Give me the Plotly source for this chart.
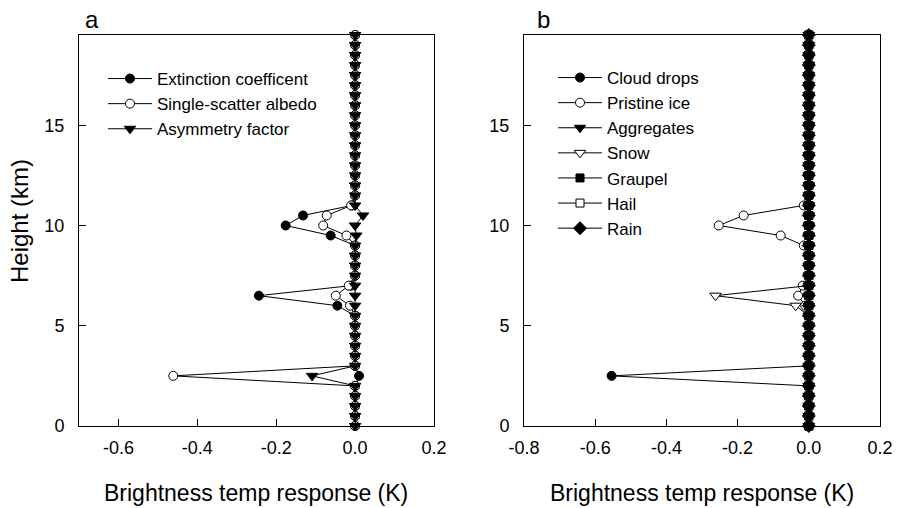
import plotly.graph_objects as go

W, H = 900, 508

# ---------------- data ----------------
heights = [0.0, 0.5, 1.0, 1.5, 2.0, 2.5, 3.0, 3.5, 4.0, 4.5,
           5.0, 5.5, 6.0, 6.5, 7.0, 7.5, 8.0, 8.5, 9.0, 9.5,
           10.0, 10.5, 11.0, 11.5, 12.0, 12.5, 13.0, 13.5, 14.0, 14.5,
           15.0, 15.5, 16.0, 16.5, 17.0, 17.5, 18.0, 18.5, 19.0, 19.5]

# panel a
extinction = [0, 0, 0, 0, 0, 0.01, 0, 0, 0, 0,
              0, 0, -0.045, -0.244, -0.01, 0, 0, 0, 0, -0.062,
              -0.176, -0.132, -0.008, 0, 0, 0, 0, 0, 0, 0,
              0, 0, 0, 0, 0, 0, 0, 0, 0, 0]
albedo = [0, 0, 0, 0, 0, -0.461, 0, 0, 0, 0,
          0, 0, -0.013, -0.049, -0.016, 0, 0, 0, 0, -0.022,
          -0.081, -0.072, -0.01, 0, 0, 0, 0, 0, 0, 0,
          0, 0, 0, 0, 0, 0, 0, 0, 0, 0]
asymmetry = [0, 0, 0, 0, 0, -0.109, 0, 0, 0, 0,
             0, 0, 0, 0, 0, 0, 0, 0, 0, 0.003,
             0, 0.02, 0, 0, 0, 0, 0, 0, 0, 0,
             0, 0, 0, 0, 0, 0, 0, 0, 0, 0]

# panel b
cloud_drops = [0, 0, 0, 0, 0, -0.554, 0, 0, 0, 0,
               0, 0, 0, 0, 0, 0, 0, 0, 0, 0,
               0, 0, 0, 0, 0, 0, 0, 0, 0, 0,
               0, 0, 0, 0, 0, 0, 0, 0, 0, 0]
pristine_ice = [0, 0, 0, 0, 0, 0, 0, 0, 0, 0,
                0, 0, -0.01, -0.03, -0.017, 0, 0, 0, -0.014, -0.079,
                -0.253, -0.183, -0.014, 0, 0, 0, 0, 0, 0, 0,
                0, 0, 0, 0, 0, 0, 0, 0, 0, 0]
aggregates = [0] * 40
snow = [0, 0, 0, 0, 0, 0, 0, 0, 0, 0,
        0, 0, -0.037, -0.262, 0, 0, 0, 0, 0, 0,
        0, 0, 0, 0, 0, 0, 0, 0, 0, 0,
        0, 0, 0, 0, 0, 0, 0, 0, 0, 0]
graupel = [0] * 40
hail = [0] * 40
rain = [0] * 40

xticks_a = [-0.6, -0.4, -0.2, 0.0, 0.2]
xticklabels_a = ["-0.6", "-0.4", "-0.2", "0.0", "0.2"]
xticks_b = [-0.8, -0.6, -0.4, -0.2, 0.0, 0.2]
xticklabels_b = ["-0.8", "-0.6", "-0.4", "-0.2", "0.0", "0.2"]
yticks = [0, 5, 10, 15]

FONT = "Liberation Sans, Arial, sans-serif"

def px_x(p):
    return p / W

def px_y(p):
    return 1 - p / H

fig = go.Figure()

def add(x, name, symbol, fill, size, xa, ya, legend):
    fig.add_trace(go.Scatter(
        x=x, y=heights, name=name, mode="lines+markers",
        xaxis=xa, yaxis=ya, legend=legend, cliponaxis=False,
        line=dict(color="black", width=1),
        marker=dict(symbol=symbol, size=size, color=fill,
                    line=dict(color="black", width=1)),
    ))

add(extinction, "Extinction coefficent", "circle", "black", 9, "x", "y", "legend")
add(albedo, "Single-scatter albedo", "circle", "white", 9, "x", "y", "legend")
add(asymmetry, "Asymmetry factor", "triangle-down", "black", 10, "x", "y", "legend")

add(cloud_drops, "Cloud drops", "circle", "black", 9, "x2", "y2", "legend2")
add(pristine_ice, "Pristine ice", "circle", "white", 9, "x2", "y2", "legend2")
add(aggregates, "Aggregates", "triangle-down", "black", 10, "x2", "y2", "legend2")
add(snow, "Snow", "triangle-down", "white", 10, "x2", "y2", "legend2")
add(graupel, "Graupel", "square", "black", 8, "x2", "y2", "legend2")
add(hail, "Hail", "square", "white", 8, "x2", "y2", "legend2")
add(rain, "Rain", "diamond", "black", 10, "x2", "y2", "legend2")

ydom = [px_y(426), px_y(35)]
axis_common = dict(showline=True, mirror=True, linecolor="black", linewidth=1,
                   ticks="inside", ticklen=7, tickcolor="black", tickwidth=1,
                   showgrid=False, zeroline=False, automargin=False,
                   tickfont=dict(family=FONT, size=18, color="black"))

legend_common = dict(font=dict(family=FONT, size=17, color="black"),
                     bgcolor="rgba(0,0,0,0)", itemwidth=44,
                     xanchor="left", yanchor="top", tracegroupgap=0)

fig.update_layout(
    width=W, height=H, margin=dict(l=0, r=0, t=0, b=0, autoexpand=False),
    paper_bgcolor="white", plot_bgcolor="white",
    font=dict(family=FONT, color="black"),
    xaxis=dict(domain=[px_x(79), px_x(434)], range=[-0.7, 0.2], anchor="y",
               tickvals=xticks_a, ticktext=xticklabels_a, ticklabelstandoff=5, **axis_common),
    yaxis=dict(domain=ydom, range=[0, 19.5], anchor="x",
               tickvals=yticks, ticklabelstandoff=10, **axis_common),
    xaxis2=dict(domain=[px_x(524), px_x(880)], range=[-0.8, 0.2], anchor="y2",
                tickvals=xticks_b, ticktext=xticklabels_b, ticklabelstandoff=5, **axis_common),
    yaxis2=dict(domain=ydom, range=[0, 19.5], anchor="x2",
                tickvals=yticks, ticklabelstandoff=10, **axis_common),
    legend=dict(x=px_x(103), y=px_y(61), **legend_common),
    legend2=dict(x=px_x(103 + 450), y=px_y(60), **legend_common),
    annotations=[
        dict(text="a", x=px_x(83), y=px_y(19), xref="paper", yref="paper",
             xanchor="left", yanchor="middle", showarrow=False,
             font=dict(family=FONT, size=24, color="black")),
        dict(text="b", x=px_x(535), y=px_y(19), xref="paper", yref="paper",
             xanchor="left", yanchor="middle", showarrow=False,
             font=dict(family=FONT, size=24, color="black")),
        dict(text="Height (km)", x=px_x(19), y=px_y(221), xref="paper", yref="paper",
             xanchor="center", yanchor="middle", showarrow=False, textangle=-90,
             font=dict(family=FONT, size=24, color="black")),
        dict(text="Brightness temp response (K)", x=px_x(256), y=px_y(493),
             xref="paper", yref="paper", xanchor="center", yanchor="middle",
             showarrow=False, font=dict(family=FONT, size=23, color="black")),
        dict(text="Brightness temp response (K)", x=px_x(702), y=px_y(493),
             xref="paper", yref="paper", xanchor="center", yanchor="middle",
             showarrow=False, font=dict(family=FONT, size=23, color="black")),
    ],
)

fig.write_html("out.html", config={"displayModeBar": False},
               post_script="document.body.style.margin='0';document.body.style.overflow='hidden';")
